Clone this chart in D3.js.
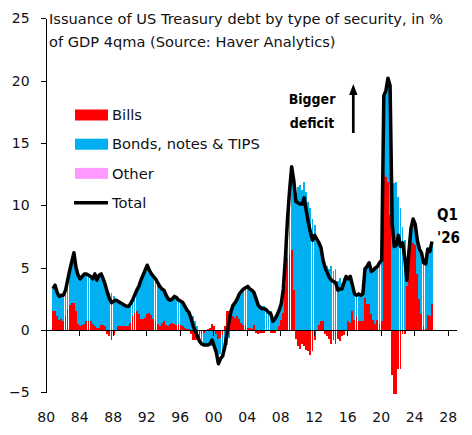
<!DOCTYPE html>
<html lang="en">
<head>
<meta charset="UTF-8" />
<title>Issuance of US Treasury debt by type of security</title>
<script src="https://d3js.org/d3.v7.min.js"></script>
<style>
  body { margin: 0; background: #fff; }
  svg { display: block; font-family: 'DejaVu Sans', sans-serif; }
  .tick text { fill: #111; }
</style>
</head>
<body>
<div id="chart"></div>
<script>
// quarterly, % of GDP, 4q moving average; first bar is 1980 Q4, last 2026 Q1
const firstQuarter = 1980.75;

const bills = [
  1.5,
  1.5, 1.1, 0.8, 0.9,   0.7, 1.1, 1.6, 2.0,   2.2, 2.2, 1.5, 0.5,   0.3, 0.4, 0.5, 0.7,
  0.7, 0.7, 0.5, 0.3,   0.2, 0.2, 0.4, 0.4,   0.3, -0.3, -0.5, -0.8, -0.4, -0.1, 0.3, 0.35,
  0.35, 0.3, 0.3, 0.3,  0.6, 1.1, 1.4, 1.5,   1.3, 0.9, 0.9, 1.0,   1.3, 1.4, 1.2, 0.9,
  0.7, 0.5, 0.3, 0.6,   0.7, 0.4, 0.3, 0.5,   0.6, 0.5, 0.4, 0.5,   0.4, 0.3, 0.2, 0.1,
  0.1, -0.3, -0.8, -0.8, -0.8, -0.6, -0.4, -0.2, 0.0, 0.1, 0.2, 0.5, 0.3, -0.3, -0.7, -0.6,
  -0.4, 0.3, 1.5, 1.5,  1.3, 1.1, 1.0, 1.1,   0.9, 0.6, 0.4, 0.3,   0.2, 0.2, 0.1, 0.4,
  -0.2, -0.3, -0.2, -0.2, -0.2, -0.1, -0.1, -0.2, -0.2, -0.2, 0.0, 0.3, 0.8, 1.4, 3.5, 5.8,
  6.0, 6.4, 3.2, -0.7,  -1.3, -1.5, -1.1, -1.3, -1.6, -1.7, -2.0, -1.7, -0.8, -0.1, 0.4, 0.7,
  0.7, -0.3, -0.5, -0.7, -1.1, -0.8, -1.1, -0.7, -0.9, -0.5, -0.4, 0.0, 0.7, 0.6, 1.5, 0.8,
  1.1, 0.7, 0.7, 0.7,   2.6, 2.1, 2.1, 1.3,   0.8, 0.5, 0.8, 0.5,   0.7, 12.4, 12.3, 11.9,
  9.2, -3.6, -5.1, -5.1, -3.1, -3.1, -0.3, -0.3, 3.5, 7.1, 7.1, 7.0, 6.8, 4.5, 2.5, 1.3,
  0.3, 0.1, 1.2, 1.1,
  2.1
];

const bonds = [
  1.8,
  2.1, 1.9, 1.9, 1.9,   2.1, 2.1, 2.4, 2.8,   3.3, 4.0, 3.5, 3.9,   3.8, 3.9, 4.0, 3.8,
  3.7, 3.6, 3.6, 4.2,   3.8, 4.2, 4.1, 3.7,   3.3, 3.3, 3.0, 3.0,   2.7, 2.5, 2.0, 1.85,
  1.75, 1.7, 1.6, 1.6,  1.5, 1.3, 1.4, 1.7,   2.2, 3.1, 3.5, 3.8,   3.9, 3.4, 3.3, 3.4,
  3.4, 3.3, 3.2, 2.7,   2.5, 2.4, 2.2, 1.9,   1.9, 2.2, 2.2, 1.9,   1.9, 1.9, 1.7, 1.5,
  1.3, 1.2, 1.1, 0.7,   0.3, -0.3, -0.7, -1.0, -1.2, -1.3, -1.3, -1.3, -1.4, -1.5, -1.3, -1.3,
  -1.6, -1.6, -1.2, -0.6, 0.2, 0.9, 1.2, 1.4, 2.0, 2.5, 2.9, 3.1,   3.3, 3.1, 3.1, 2.6,
  2.7, 2.3, 2.0, 1.9,   1.9, 1.7, 1.5, 1.5,   0.9, 1.1, 1.2, 1.3,   1.3, 1.9, 2.3, 3.1,
  5.2, 6.7, 8.8, 11.0,  11.5, 11.6, 11.2, 11.9, 11.1, 10.3, 9.8, 8.9, 8.4, 7.4, 6.6, 5.9,
  4.9, 5.3, 5.1, 4.9,   5.1, 4.7, 4.9, 3.9,   4.2, 3.8, 4.2, 4.3,   3.4, 3.7, 2.1, 2.1,
  1.7, 2.2, 2.1, 2.2,   2.3, 3.0, 3.3, 3.4,   4.0, 4.5, 4.3, 4.9,   4.9, 6.4, 6.9, 8.3,
  10.4, 12.1, 11.8, 11.9, 10.7, 9.8, 8.3, 7.2, 0.4, 0.0, 1.1, 1.9,  1.7, 2.7, 4.0, 4.9,
  5.1, 5.2, 5.3, 5.2,
  5.0
];

// "Other" is too small to show anywhere on the chart
const other = [];

const total = [
  3.3,
  3.6, 3.0, 2.7, 2.8,   2.8, 3.2, 4.0, 4.8,   5.5, 6.2, 5.0, 4.4,   4.1, 4.3, 4.5, 4.5,
  4.4, 4.3, 4.1, 4.5,   4.0, 4.4, 4.5, 4.1,   3.6, 3.0, 2.5, 2.2,   2.3, 2.4, 2.3, 2.2,
  2.1, 2.0, 1.9, 1.9,   2.1, 2.4, 2.8, 3.2,   3.5, 4.0, 4.4, 4.8,   5.2, 4.8, 4.5, 4.3,
  4.1, 3.8, 3.5, 3.3,   3.2, 2.8, 2.5, 2.4,   2.5, 2.7, 2.6, 2.4,   2.3, 2.2, 1.9, 1.6,
  1.4, 0.9, 0.3, -0.1,  -0.5, -0.9, -1.1, -1.2, -1.2, -1.2, -1.1, -0.8, -1.3, -1.8, -2.7, -2.3,
  -2.1, -1.4, -0.4, 0.6, 1.5, 2.0, 2.2, 2.5, 2.9, 3.1, 3.3, 3.4,   3.5, 3.3, 3.2, 3.0,
  2.5, 2.0, 1.8, 1.7,   1.7, 1.6, 1.4, 1.3,   0.7, 0.9, 1.2, 1.6,   2.1, 3.3, 5.8, 8.9,
  11.2, 13.1, 12.0, 10.3, 10.2, 10.1, 10.1, 10.6, 9.5, 8.6, 7.8, 7.2, 7.6, 7.3, 7.0, 6.6,
  5.6, 5.0, 4.6, 4.2,   4.0, 3.9, 3.8, 3.2,   3.3, 3.3, 3.8, 4.3,   4.1, 4.3, 3.6, 2.9,
  2.8, 2.9, 2.8, 2.9,   4.9, 5.1, 5.4, 4.7,   4.8, 5.0, 5.1, 5.4,   5.6, 18.8, 19.2, 20.2,
  19.6, 8.5, 6.7, 6.8,  7.6, 6.7, 7.0, 5.8,   4.0, 6.3, 8.2, 8.9,   8.5, 7.2, 6.5, 6.2,
  5.4, 5.3, 6.5, 6.3,
  7.1
];

const yTicks = [-5, 0, 5, 10, 15, 20, 25];
const xTicks = [1980, 1984, 1988, 1992, 1996, 2000, 2004, 2008, 2012, 2016, 2020, 2024, 2028];
const seriesNames = ['Bills', 'Bonds, notes & TIPS', 'Other'];
const seriesColors = ['#ff0000', '#00b0f0', '#ff99ff'];
const titleLines = [
  'Issuance of US Treasury debt by type of security, in %',
  'of GDP 4qma (Source: Haver Analytics)'
];

const W = 472, H = 435;

const svg = d3.select('#chart').append('svg')
  .attr('width', W)
  .attr('height', H);

const x = d3.scaleLinear().domain([1980, 2029]).range([45.67, 456.04]);
const y = d3.scaleLinear().domain([-5, 25]).range([392.4, 18.3]);

const rows = total.map((v, i) => ({
  t: firstQuarter + i * 0.25,
  bills: bills[i],
  bonds: bonds[i],
  other: other[i] || 0,
  total: v
}));

const keys = ['bills', 'bonds', 'other'];
const stacked = d3.stack()
  .keys(keys)
  .offset(d3.stackOffsetDiverging)(rows);

// bars
const step = x(firstQuarter + 0.25) - x(firstQuarter);
svg.append('g')
  .selectAll('g')
  .data(stacked)
  .join('g')
  .attr('fill', (d, i) => seriesColors[i])
  .selectAll('rect')
  .data((d) => d)
  .join('rect')
  .attr('x', (d) => x(d.data.t))
  .attr('width', step * 0.9)
  .attr('y', (d) => y(Math.max(d[0], d[1])))
  .attr('height', (d) => Math.abs(y(d[0]) - y(d[1])))
  .attr('shape-rendering', 'crispEdges');

// y axis
const yAxis = svg.append('g')
  .attr('transform', `translate(${x(1980)},0)`)
  .call(d3.axisLeft(y).tickValues(yTicks).tickSize(5).tickSizeOuter(0).tickPadding(11));
yAxis.selectAll('text').style('font-size', '14px').style('font-family', 'DejaVu Sans');

// zero line with ticks
svg.append('g')
  .attr('transform', `translate(0,${y(0)})`)
  .call(d3.axisBottom(x).tickValues(xTicks).tickSize(6).tickSizeOuter(0).tickFormat(''));

// year labels along the bottom
const xLabels = svg.append('g')
  .attr('transform', 'translate(0,412)')
  .call(d3.axisBottom(x).tickValues(xTicks).tickSize(0).tickPadding(0)
    .tickFormat((d) => String(d % 100).padStart(2, '0')));
xLabels.select('.domain').remove();
xLabels.selectAll('text').style('font-size', '14px').style('font-family', 'DejaVu Sans');

svg.selectAll('.domain, .tick line')
  .attr('stroke', '#000')
  .attr('shape-rendering', 'crispEdges');

// total line
svg.append('path')
  .datum(rows)
  .attr('fill', 'none')
  .attr('stroke', '#000')
  .attr('stroke-width', 3.5)
  .attr('stroke-linejoin', 'round')
  .attr('d', d3.line().x((d) => x(d.t + 0.125)).y((d) => y(d.total)));

// title
svg.append('g')
  .selectAll('text')
  .data(titleLines)
  .join('text')
  .attr('x', 49)
  .attr('y', (d, i) => 24 + i * 23)
  .style('font-size', '14.6px')
  .attr('fill', '#111')
  .text((d) => d);

// legend
const legend = svg.append('g').style('font-size', '14.7px');
seriesNames.forEach((name, i) => {
  const cy = 115 + i * 29.2;
  legend.append('rect')
    .attr('x', 75).attr('y', cy - 5.5)
    .attr('width', 33).attr('height', 11)
    .attr('fill', seriesColors[i]);
  legend.append('text')
    .attr('x', 112).attr('y', cy)
    .attr('dy', '0.35em')
    .attr('fill', '#111')
    .text(name);
});
legend.append('line')
  .attr('x1', 74).attr('x2', 108)
  .attr('y1', 202.7).attr('y2', 202.7)
  .attr('stroke', '#000').attr('stroke-width', 3.5);
legend.append('text')
  .attr('x', 112).attr('y', 202.7)
  .attr('dy', '0.35em')
  .attr('fill', '#111')
  .text('Total');

// annotation
const note = svg.append('g')
  .style('font-family', "'DejaVu Sans Condensed', 'DejaVu Sans', sans-serif")
  .style('font-weight', 'bold')
  .style('font-size', '14px');
note.append('text').attr('x', 312).attr('y', 99.3).attr('dy', '0.35em')
  .attr('text-anchor', 'middle').text('Bigger');
note.append('text').attr('x', 312).attr('y', 122.7).attr('dy', '0.35em')
  .attr('text-anchor', 'middle').text('deficit');
note.append('line')
  .attr('x1', 353.3).attr('x2', 353.3)
  .attr('y1', 133).attr('y2', 93)
  .attr('stroke', '#000').attr('stroke-width', 2.7);
note.append('path')
  .attr('d', 'M353.3,84 L357.5,95 L349.1,95 Z')
  .attr('fill', '#000');

note.append('text').attr('x', 437).attr('y', 215).attr('dy', '0.35em')
  .style('font-size', '15px').text('Q1');
note.append('text').attr('x', 437).attr('y', 237.3).attr('dy', '0.35em')
  .style('font-size', '15px').text("'26");
</script>
</body>
</html>
